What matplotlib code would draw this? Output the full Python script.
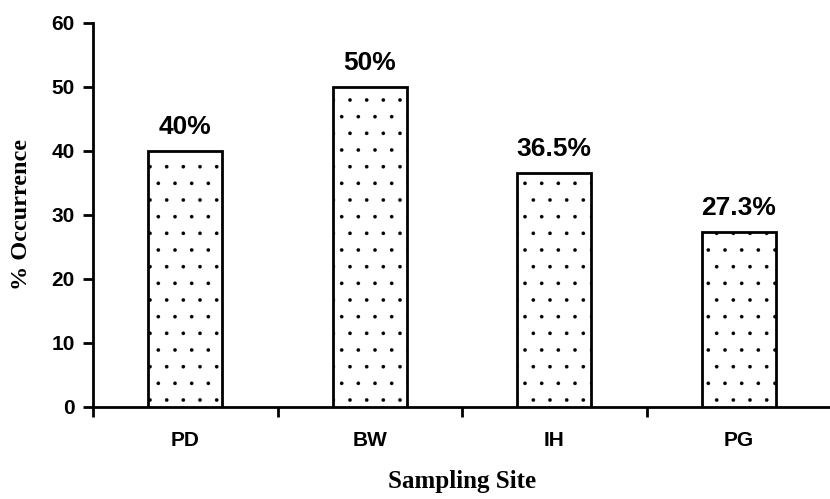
import matplotlib
matplotlib.use("Agg")
import matplotlib.pyplot as plt

sites = ["PD", "BW", "IH", "PG"]
occurrence = [40, 50, 36.5, 27.3]
value_labels = ["40%", "50%", "36.5%", "27.3%"]
yticks = [0, 10, 20, 30, 40, 50, 60]

plt.rcParams['hatch.linewidth'] = 0.2
plt.rcParams['hatch.color'] = '#888888'

fig = plt.figure(figsize=(8.30, 4.99), dpi=100)
ax = fig.add_axes([93/830, 92/499, (831-93)/830, (407-23)/499])

x = list(range(len(sites)))
bars = ax.bar(x, occurrence, width=0.4, facecolor='white', edgecolor='black',
              linewidth=2, hatch='.', zorder=3)
for xi, v, lab in zip(x, occurrence, value_labels):
    ax.text(xi, v + 1.9, lab, ha='center', va='bottom', fontsize=19,
            fontweight='bold', family='Liberation Sans')

ax.set_xlim(-0.5, 3.48)
ax.set_ylim(0, 60)
ax.set_yticks(yticks)
ax.set_yticklabels([str(t) for t in yticks], fontsize=15, fontweight='bold', family='Liberation Sans')
ax.set_xticks([-0.5, 0.5, 1.5, 2.5, 3.5])
ax.set_xticklabels([])
ax.set_xticks(x, minor=True)
ax.set_xticklabels(sites, minor=True, fontsize=15, fontweight='bold', family='Liberation Sans')
ax.tick_params(axis='x', which='minor', length=0, pad=17)
ax.tick_params(axis='x', which='major', direction='out', length=7, width=2)
ax.tick_params(axis='y', direction='out', length=7, width=2, pad=6)

for s in ['top', 'right']:
    ax.spines[s].set_visible(False)
for s in ['left', 'bottom']:
    ax.spines[s].set_linewidth(2)

ax.set_ylabel("% Occurrence", fontsize=17.5, fontweight='bold', family='Liberation Serif', labelpad=14)
ax.set_xlabel("Sampling Site", fontsize=18, fontweight='bold', family='Liberation Serif', labelpad=15)

fig.savefig("out.png", dpi=100)
